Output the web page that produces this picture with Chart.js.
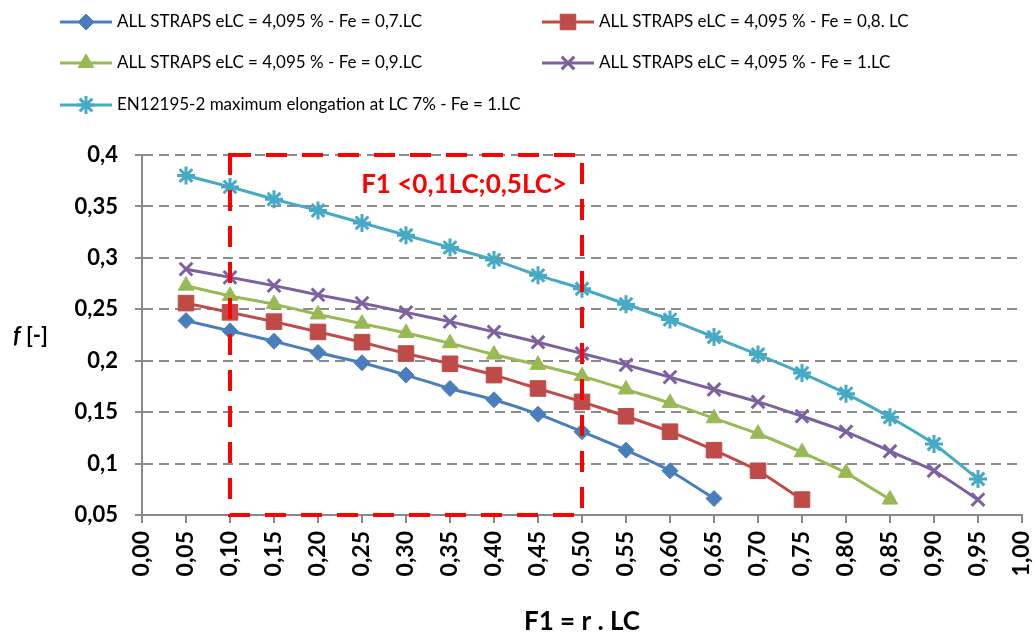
<!DOCTYPE html>
<html>
<head>
  <title>Friction factor f vs F1</title>
  <script src="https://cdn.jsdelivr.net/npm/chart.js"></script>
  <style>
    body {
      margin: 0;
      background: #fff;
    }
    #wrap {
      width: 1035px;
      height: 637px;
    }
  </style>
</head>
<body>

  <div id="wrap"><canvas id="fChart"></canvas></div>

  <script>
    // F1 = r . LC positions (x axis)
    const f1Values = [0.05, 0.10, 0.15, 0.20, 0.25, 0.30, 0.35, 0.40, 0.45, 0.50,
                      0.55, 0.60, 0.65, 0.70, 0.75, 0.80, 0.85, 0.90, 0.95];

    const seriesNames = [
      'ALL STRAPS eLC = 4,095 % - Fe = 0,7.LC',
      'ALL STRAPS eLC = 4,095 % - Fe = 0,8. LC',
      'ALL STRAPS eLC = 4,095 % - Fe = 0,9.LC',
      'ALL STRAPS eLC = 4,095 % - Fe = 1.LC',
      'EN12195-2 maximum elongation at LC 7% - Fe = 1.LC'
    ];

    // f [-] values
    const fe07 = [0.239, 0.229, 0.219, 0.208, 0.198, 0.186, 0.173, 0.162, 0.148, 0.131,
                  0.113, 0.093, 0.066];
    const fe08 = [0.256, 0.247, 0.238, 0.228, 0.218, 0.207, 0.197, 0.186, 0.173, 0.160,
                  0.146, 0.131, 0.113, 0.093, 0.065];
    const fe09 = [0.273, 0.263, 0.255, 0.245, 0.236, 0.227, 0.217, 0.206, 0.196, 0.185,
                  0.172, 0.159, 0.144, 0.129, 0.111, 0.091, 0.065];
    const fe10 = [0.289, 0.281, 0.273, 0.264, 0.256, 0.247, 0.238, 0.228, 0.218, 0.207,
                  0.196, 0.184, 0.172, 0.160, 0.146, 0.131, 0.112, 0.093, 0.065];
    const en12195 = [0.380, 0.369, 0.357, 0.346, 0.334, 0.322, 0.310, 0.298, 0.283, 0.270,
                     0.255, 0.240, 0.223, 0.206, 0.188, 0.168, 0.145, 0.119, 0.085];

    // highlighted F1 range
    const zoneX = [0.1, 0.5];
    const zoneY = [0.05, 0.4];
    const zoneLabel = 'F1 <0,1LC;0,5LC>';
    const zoneLabelAt = [0.366, 0.371];

    const colors = ['#4a7ebb', '#be4b48', '#98b954', '#7d60a0', '#46aac5'];
    const markers = ['rectRot', 'rect', 'triangle', 'crossRot', 'star'];
    const markerSize = [8, 11, 9, 9, 9];

    function toPoints(values) {
      return values.map((v, i) => ({ x: f1Values[i], y: v }));
    }

    const allSeries = [fe07, fe08, fe09, fe10, en12195];

    const datasets = allSeries.map((vals, i) => ({
      label: seriesNames[i],
      data: toPoints(vals),
      borderColor: colors[i],
      backgroundColor: colors[i],
      borderWidth: 3,
      pointStyle: markers[i],
      pointRadius: markerSize[i],
      pointHoverRadius: markerSize[i],
      pointBorderWidth: (markers[i] === 'crossRot' || markers[i] === 'star') ? 3 : 1,
      tension: 0.15
    }));

    const legendCols = [60, 542];
    const legendRows = [22, 63, 105];

    const extrasPlugin = {
      id: 'extras',
      afterDatasetsDraw(chart) {
        const { ctx, scales: { x, y } } = chart;
        const left = x.getPixelForValue(zoneX[0]);
        const right = x.getPixelForValue(zoneX[1]);
        const top = y.getPixelForValue(zoneY[1]);
        const bottom = y.getPixelForValue(zoneY[0]);

        ctx.save();
        ctx.strokeStyle = '#ff0000';
        ctx.lineWidth = 4;
        ctx.setLineDash([21, 15]);
        ctx.strokeRect(left, top, right - left, bottom - top);
        ctx.setLineDash([]);

        ctx.font = 'bold 26px Lato';
        ctx.fillStyle = '#ff0000';
        ctx.textAlign = 'center';
        ctx.textBaseline = 'middle';
        ctx.fillText(zoneLabel, x.getPixelForValue(zoneLabelAt[0]), y.getPixelForValue(zoneLabelAt[1]));
        ctx.restore();
      },
      afterDraw(chart) {
        const ctx = chart.ctx;
        ctx.save();

        // legend, two columns
        chart.data.datasets.forEach((ds, i) => {
          const lx = legendCols[i % 2];
          const ly = legendRows[Math.floor(i / 2)];
          ctx.strokeStyle = ds.borderColor;
          ctx.fillStyle = ds.borderColor;
          ctx.lineWidth = 3;
          ctx.beginPath();
          ctx.moveTo(lx, ly);
          ctx.lineTo(lx + 52, ly);
          ctx.stroke();
          ctx.lineWidth = ds.pointBorderWidth;
          Chart.helpers.drawPoint(ctx, {
            pointStyle: ds.pointStyle,
            radius: ds.pointRadius,
            borderWidth: ds.pointBorderWidth,
            rotation: 0
          }, lx + 26, ly);

          ctx.fillStyle = '#000';
          ctx.font = '17px Lato';
          ctx.textAlign = 'left';
          ctx.textBaseline = 'middle';
          ctx.fillText(ds.label, lx + 57, ly);
        });

        // y axis title: f [-]
        ctx.fillStyle = '#000';
        ctx.textBaseline = 'middle';
        ctx.textAlign = 'left';
        ctx.font = 'italic bold 23px Lato';
        ctx.fillText('f', 13, 336);
        const fw = ctx.measureText('f').width;
        ctx.font = 'bold 22px Lato';
        ctx.fillText(' [-]', 13 + fw, 336);
        ctx.restore();
      }
    };

    new Chart(document.getElementById('fChart'), {
      type: 'line',
      data: { datasets },
      plugins: [extrasPlugin],
      options: {
        responsive: true,
        maintainAspectRatio: false,
        animation: false,
        layout: {
          autoPadding: false,
          padding: { top: 155, right: 13, left: 0, bottom: 0 }
        },
        plugins: {
          legend: { display: false },
          tooltip: { enabled: false }
        },
        scales: {
          x: {
            type: 'linear',
            min: 0,
            max: 1,
            afterFit(scale) {
              scale.height = 122;
              scale.paddingLeft = 0;
              scale.paddingRight = 0;
            },
            ticks: {
              stepSize: 0.05,
              autoSkip: false,
              minRotation: 90,
              maxRotation: 90,
              padding: 8,
              color: '#000',
              font: { family: 'Lato', size: 23, weight: 'bold' },
              callback: v => v.toFixed(2).replace('.', ',')
            },
            grid: {
              drawOnChartArea: false,
              color: '#888',
              lineWidth: 2,
              tickLength: 8
            },
            border: { color: '#888', width: 2 },
            title: {
              display: true,
              text: 'F1 = r . LC',
              color: '#000',
              font: { family: 'Lato', size: 26, weight: 'bold' },
              padding: { top: 4, bottom: 0 }
            }
          },
          y: {
            min: 0.05,
            max: 0.4,
            afterFit(scale) { scale.width = 142; },
            ticks: {
              stepSize: 0.05,
              padding: 17,
              color: '#000',
              font: { family: 'Lato', size: 22, weight: 'bold' },
              callback: v => String(Number(v.toFixed(2))).replace('.', ',')
            },
            grid: {
              color: '#8c8c8c',
              lineWidth: 2,
              tickLength: 7,
              tickBorderDash: []
            },
            border: { color: '#888', width: 2, dash: [10, 6] }
          }
        }
      }
    });
  </script>
</body>
</html>
